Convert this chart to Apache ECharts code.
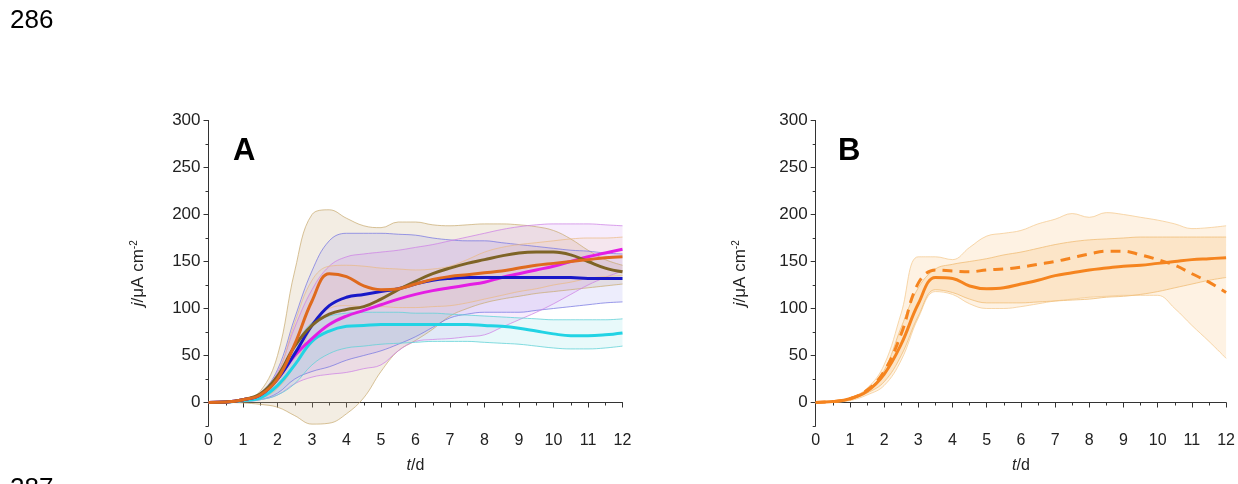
<!DOCTYPE html>
<html>
<head>
<meta charset="utf-8">
<script src="https://cdn.jsdelivr.net/npm/echarts@6/dist/echarts.min.js"></script>
<style>
html,body{margin:0;padding:0;background:#fff;}
#c{width:1238px;height:484px;}
</style>
</head>
<body>
<div id="c"></div>
<script>
// time axis (days)
const t = [0,0.5,1,1.5,2,2.5,3,3.5,4,4.5,5,5.5,6,6.5,7,7.5,8,8.5,9,9.5,10,10.5,11,11.5,12];
const xTicks = [0,1,2,3,4,5,6,7,8,9,10,11,12];
const yTicks = [0,50,100,150,200,250,300];

// Panel A mean curves
const aOrange  = [0,0.5,3,8,25,62,108,137,134,124,120,121,126,131,134,136,138,140,143,146,148,150,152,154,155];
const aBlue    = [0,0.5,3,8,25,52,82,103,112,115,118,121,126,130,132,133,133,133,133,133,133,133,132,132,132];
const aMagenta = [0,0.5,3,8,25,50,68,83,92,98,104,110,115,119,122,125,128,133,137,141,145,150,155,159,163];
const aOlive   = [0,0.5,3,9,28,60,82,94,99,102,110,120,129,137,143,148,152,156,159,160,160,157,150,143,139];
const aCyan    = [0,0.3,2,5,18,40,65,76,81,82,83,83,83,83,83,83,82,81,79,76,73,71,71,72,74];

// Panel A bands (lower / upper)
const tanLo  = [0,0,-0.5,-2,-5,-14,-23,-22,-12,5,33,55,66,78,92,100,106,110,113,116,118,120,122,124,126];
const tanHi  = [0,0.5,3,12,50,140,200,205,196,188,186,192,192,189,188,189,190,190,189,187,183,174,162,152,146];
const blueLo = [0,0.3,1,3,10,25,33,38,45,50,55,62,70,80,90,94,96,96,96,98,100,102,104,106,107];
const blueHi = [0,0.8,3,10,35,90,140,172,180,180,180,179,178,175,173,172,172,170,168,166,164,162,161,159,158];
const magLo  = [0,0.3,1,3,8,20,27,30,32,36,40,55,65,67,68,70,72,80,88,96,105,115,125,133,140];
const magHi  = [0,0.8,3,10,32,80,120,145,155,158,160,162,165,168,172,176,180,184,187,189,190,190,190,189,188];
const cyanLo = [0,0.2,1,3,8,20,40,52,58,60,62,63,64,65,65,65,64,63,62,60,58,57,57,58,60];
const cyanHi = [0,0.5,2,8,28,60,85,92,95,96,96,96,95,95,94,93,92,91,90,89,88,88,88,88,89];
const orgLo  = [0,0.3,1,4,15,40,80,100,103,102,102,101,101,102,103,106,110,114,118,121,125,128,132,134,135];
const orgHi  = [0,0.8,3,10,30,85,130,145,146,145,143,142,141,142,145,152,160,165,168,170,172,174,175,175,176];

// Panel B curves
const bSolid  = [0,1,4,12,30,62,105,133,132,124,121,122,126,130,135,138,141,143,145,146,148,150,152,153,154];
const bDashed = [0,1,4,13,33,73,127,141,140,139,141,142,144,147,150,154,158,161,161,157,152,146,137,128,117];
// Panel B bands
const bOutLo = [0,0.3,2,8,18,45,90,118,115,105,100,100,102,105,108,110,112,113,114,114,114,100,82,65,47];
const bOutHi = [0,1,5,15,40,95,155,155,152,165,177,180,183,190,195,201,197,202,200,197,194,190,185,186,188];
const bInLo  = [0,0.5,3,10,22,50,92,120,117,110,106,106,106,107,108,109,110,112,113,115,118,122,126,130,133];
const bInHi  = [0,0.8,4,13,34,80,122,142,147,150,153,157,160,164,168,171,173,174,175,176,176,176,176,176,176];

const FONT = "'Liberation Sans', Arial, sans-serif";
// value first, time second, so the stacked dimension is the value
const pairs = arr => t.map((x, i) => [arr[i], x]);
const diffs = (lo, hi) => t.map((x, i) => [hi[i] - lo[i], x]);
const ENC = { x: 1, y: 0 };
const SM = 0.4;

function band(id, lo, hi, fill, edge, gi) {
  return [
    { type: 'line', xAxisIndex: gi, yAxisIndex: gi * 2, stack: id, stackStrategy: 'all', encode: ENC,
      data: pairs(lo), smooth: SM, symbol: 'none', silent: true, z: 1,
      lineStyle: { width: 1, color: edge } },
    { type: 'line', xAxisIndex: gi, yAxisIndex: gi * 2, stack: id, stackStrategy: 'all', encode: ENC,
      data: diffs(lo, hi), smooth: SM, symbol: 'none', silent: true, z: 1,
      lineStyle: { width: 1, color: edge }, areaStyle: { color: fill, opacity: 1 } }
  ];
}
function curve(arr, color, gi, dashed) {
  return { type: 'line', xAxisIndex: gi, yAxisIndex: gi * 2, data: pairs(arr), encode: ENC, smooth: SM,
    symbol: 'none', z: 5,
    lineStyle: { width: 3, color: color, type: dashed ? [10, 7] : 'solid' } };
}

const grids = [
  { left: 208.5, top: 120.5, width: 414, height: 305.5 },
  { left: 815.7, top: 120.5, width: 412, height: 305.5 }
];

function xAx(gi) {
  return { type: 'value', gridIndex: gi, min: 0, max: 12, interval: 1,
    axisLine: { show: true, lineStyle: { color: '#333', width: 1 } },
    axisTick: { show: true, length: 5, lineStyle: { color: '#333' } },
    minorTick: { show: true, splitNumber: 2, length: 3, lineStyle: { color: '#333' } },
    splitLine: { show: false },
    axisLabel: { fontFamily: FONT, fontSize: 16, color: '#222', margin: 7,
      customValues: xTicks },
    name: '{i|t}/d', nameLocation: 'middle', nameGap: 32,
    nameTextStyle: { fontFamily: FONT, fontSize: 16, color: '#222',
      rich: { i: { fontStyle: 'italic', fontFamily: FONT, fontSize: 16, color: '#222' } } }
  };
}
function yAxMajor(gi, gap) {
  return { type: 'value', gridIndex: gi, min: -25, max: 300, interval: 25, position: 'left',
    axisLine: { show: true, lineStyle: { color: '#333', width: 1 } },
    axisTick: { show: true, length: 5, lineStyle: { color: '#333' }, customValues: yTicks },
    splitLine: { show: false },
    axisLabel: { fontFamily: FONT, fontSize: 17, color: '#222', margin: 8, customValues: yTicks,
      formatter: v => (v % 50 === 0 ? String(v) : '') },
    name: '{i|j}/μA cm{s|-2}', nameLocation: 'middle', nameGap: gap,
    nameTextStyle: { fontFamily: FONT, fontSize: 17, color: '#222',
      rich: { i: { fontStyle: 'italic', fontFamily: FONT, fontSize: 17, color: '#222' },
              s: { fontFamily: FONT, fontSize: 10, color: '#222', verticalAlign: 'top' } } }
  };
}
function yAxMinor(gi) {
  return { type: 'value', gridIndex: gi, min: -25, max: 300, interval: 25, position: 'left',
    axisLine: { show: false }, axisLabel: { show: false }, splitLine: { show: false },
    axisTick: { show: true, length: 3, lineStyle: { color: '#333' } } };
}

const series = [].concat(
  band('tan', tanLo, tanHi, 'rgba(205,180,140,0.24)', 'rgba(200,170,110,0.7)', 0),
  band('blue', blueLo, blueHi, 'rgba(130,130,235,0.14)', 'rgba(120,120,225,0.75)', 0),
  band('mag', magLo, magHi, 'rgba(200,120,235,0.14)', 'rgba(205,130,230,0.75)', 0),
  band('org', orgLo, orgHi, 'rgba(240,180,120,0.10)', 'rgba(235,185,130,0.7)', 0),
  band('cyan', cyanLo, cyanHi, 'rgba(110,215,225,0.16)', 'rgba(100,210,215,0.8)', 0),
  [
    curve(aCyan, '#22d3e4', 0),
    curve(aMagenta, '#e41ee4', 0),
    curve(aBlue, '#1818c8', 0),
    curve(aOlive, '#7e6426', 0),
    curve(aOrange, '#df6a1e', 0)
  ],
  band('bout', bOutLo, bOutHi, 'rgba(252,215,170,0.33)', 'rgba(245,205,150,0.8)', 1),
  band('bin', bInLo, bInHi, 'rgba(250,200,140,0.30)', 'rgba(240,190,120,0.8)', 1),
  [
    curve(bSolid, '#f5841f', 1),
    curve(bDashed, '#f5841f', 1, true)
  ]
);

const chart = echarts.init(document.getElementById('c'), null, { renderer: 'canvas' });
chart.setOption({
  animation: false,
  backgroundColor: '#ffffff',
  grid: grids,
  xAxis: [xAx(0), xAx(1)],
  yAxis: [yAxMajor(0, 62), yAxMinor(0), yAxMajor(1, 67), yAxMinor(1)],
  series: series,
  graphic: [
    { type: 'text', left: 10, top: 8, style: { text: '286', fontFamily: FONT, fontSize: 26, fill: '#000' } },
    { type: 'text', left: 10, top: 476, style: { text: '287', fontFamily: FONT, fontSize: 26, fill: '#000' } },
    { type: 'text', left: 233, top: 136, style: { text: 'A', fontFamily: FONT, fontWeight: 'bold', fontSize: 31, fill: '#000' } },
    { type: 'text', left: 838, top: 136, style: { text: 'B', fontFamily: FONT, fontWeight: 'bold', fontSize: 31, fill: '#000' } }
  ]
});
</script>
</body>
</html>
